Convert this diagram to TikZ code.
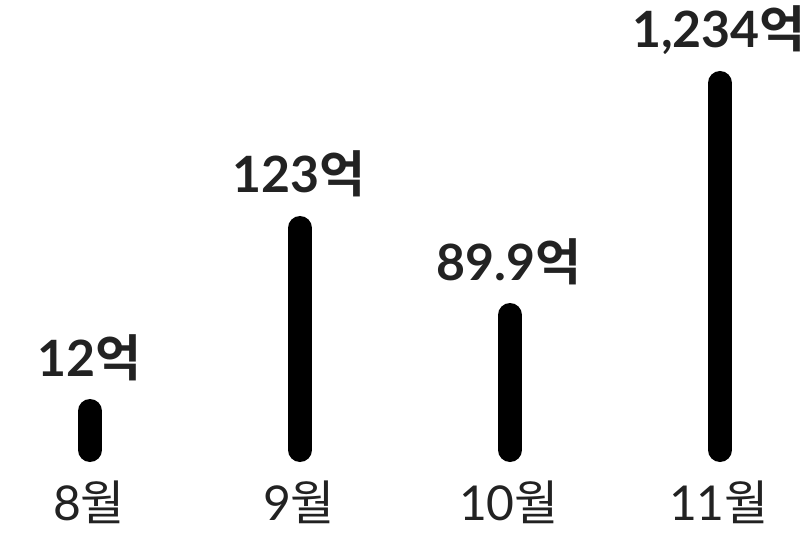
\documentclass[tikz,border=0pt]{standalone}
\usepackage{fontspec}
\setmainfont{Lato}
\newfontfamily\kr{Noto Sans CJK KR}[BoldFont={Noto Sans CJK KR Bold}]
\definecolor{txt}{HTML}{222222}
\tikzset{
  bar/.style={line width=24pt, line cap=round, black},
  val/.style={anchor=base, inner sep=0pt, text=txt, font=\fontsize{50}{50}\selectfont\bfseries},
  mon/.style={anchor=base, inner sep=0pt, text=txt, font=\fontsize{48}{48}\selectfont}
}
\begin{document}
\begin{tikzpicture}[x=1pt,y=-1pt]
\useasboundingbox (0,0) rectangle (810,534);
\fill[white] (0,0) rectangle (810,534);
% bar ends
\coordinate (b8) at (90,450);  \coordinate (t8) at (90,411);
\coordinate (b9) at (300,450); \coordinate (t9) at (300,228);
\coordinate (b10) at (510,450); \coordinate (t10) at (510,315);
\coordinate (b11) at (720,450); \coordinate (t11) at (720,83);
\draw[bar] (b8) -- (t8);
\draw[bar] (b9) -- (t9);
\draw[bar] (b10) -- (t10);
\draw[bar] (b11) -- (t11);
% values
\node[val] (v8) at (89,376) {12{\kr 억}};
\node[val] (v9) at (299,193) {123{\kr 억}};
\node[val] (v10) at (509,280) {89.9{\kr 억}};
\node[val] (v11) at (719,48) {1,234{\kr 억}};
% months
\node[mon] (m8) at (89,520) {8{\kr 월}};
\node[mon] (m9) at (299,520) {9{\kr 월}};
\node[mon] (m10) at (509,520) {10{\kr 월}};
\node[mon] (m11) at (719,520) {11{\kr 월}};
\end{tikzpicture}
\end{document}
